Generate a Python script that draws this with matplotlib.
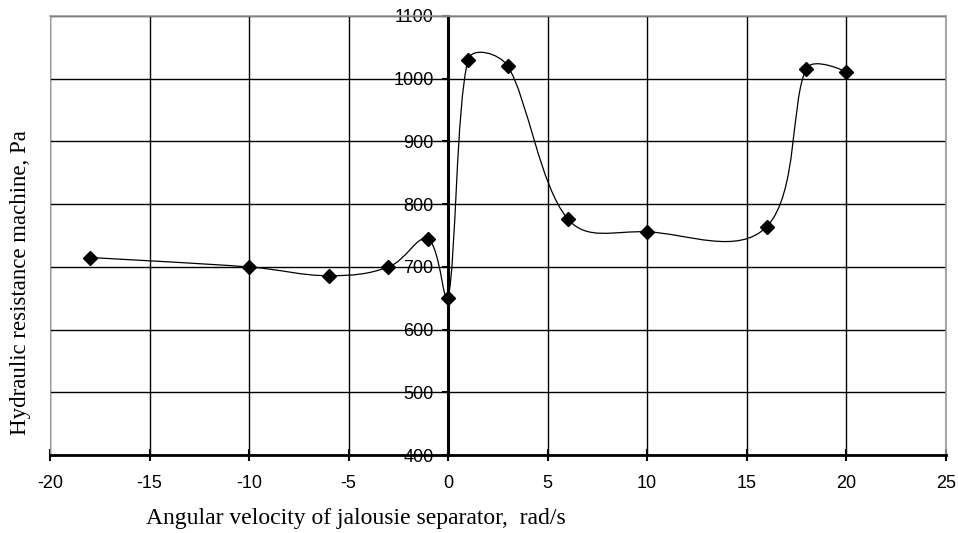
import numpy as np
import matplotlib.pyplot as plt
from matplotlib.path import Path
from matplotlib.patches import PathPatch

# angular velocity, rad/s and hydraulic resistance, Pa
omega = [-18, -10, -6, -3, -1, 0, 1, 3, 6, 10, 16, 18, 20]
resist = [715, 700, 686, 700, 744, 650, 1030, 1020, 777, 756, 764, 1016, 1011]
xticks = [-20, -15, -10, -5, 0, 5, 10, 15, 20, 25]
yticks = [400, 500, 600, 700, 800, 900, 1000, 1100]

plt.rcParams['font.family'] = ['Liberation Sans', 'DejaVu Sans']
plt.rcParams['axes.unicode_minus'] = False

fig = plt.figure(figsize=(9.58, 5.33), dpi=100)
ax = fig.add_axes([0.0522, 0.146, 0.935, 0.824])
ax.set_xlim(-20, 25)
ax.set_ylim(400, 1100)

# smoothed line like Excel: bezier segments, tangents scaled by segment length
# (worked out in pixel space, then mapped back to data)
pts = ax.transData.transform(np.column_stack([omega, resist]))
n = len(pts)
tens = 0.42
cap = 0.2
c_out = pts.copy()
c_in = pts.copy()
for i in range(1, n - 1):
    T = pts[i + 1] - pts[i - 1]
    d0 = np.hypot(*(pts[i] - pts[i - 1]))
    d1 = np.hypot(*(pts[i + 1] - pts[i]))
    c_out[i] = pts[i] + T * min(tens * d1 / (d0 + d1), cap)
    c_in[i] = pts[i] - T * min(tens * d0 / (d0 + d1), cap)
verts = [pts[0]]
codes = [Path.MOVETO]
for i in range(n - 1):
    verts += [c_out[i], c_in[i + 1], pts[i + 1]]
    codes += [Path.CURVE4] * 3
verts = ax.transData.inverted().transform(np.array(verts))
ax.add_patch(PathPatch(Path(verts, codes), fill=False, color='black', lw=0.9, zorder=3))
ax.plot(omega, resist, linestyle='none', marker='D', ms=7.5, color='black', zorder=4)

ax.set_xticks(xticks)
ax.set_yticks(yticks)
ax.grid(True, color='black', lw=1.0)
ax.set_axisbelow(True)

for s in ['top', 'right']:
    ax.spines[s].set_color('#999999')
    ax.spines[s].set_linewidth(1.2)
ax.spines['bottom'].set_linewidth(2.0)
ax.spines['left'].set_position(('data', 0))
ax.spines['left'].set_linewidth(2.2)
# left border of the plot area
ax.axvline(-20, color='#999999', lw=1.5, zorder=1)

ax.tick_params(axis='x', direction='inout', length=8, width=1.5, labelsize=13, pad=10)
ax.tick_params(axis='y', direction='out', length=4.5, width=1.5, labelsize=13, pad=6)

ax.set_xlabel('Angular velocity of jalousie separator,  rad/s', family='Liberation Serif',
              fontsize=17)
ax.xaxis.set_label_coords(0.3415, -0.1435)
ax.xaxis.label.set_va('center')
fig.text(0.021, 0.47, 'Hydraulic resistance machine, Pa', family='Liberation Serif',
         fontsize=16.5, rotation=90, va='center', ha='center')

fig.savefig('out.png', dpi=100)
